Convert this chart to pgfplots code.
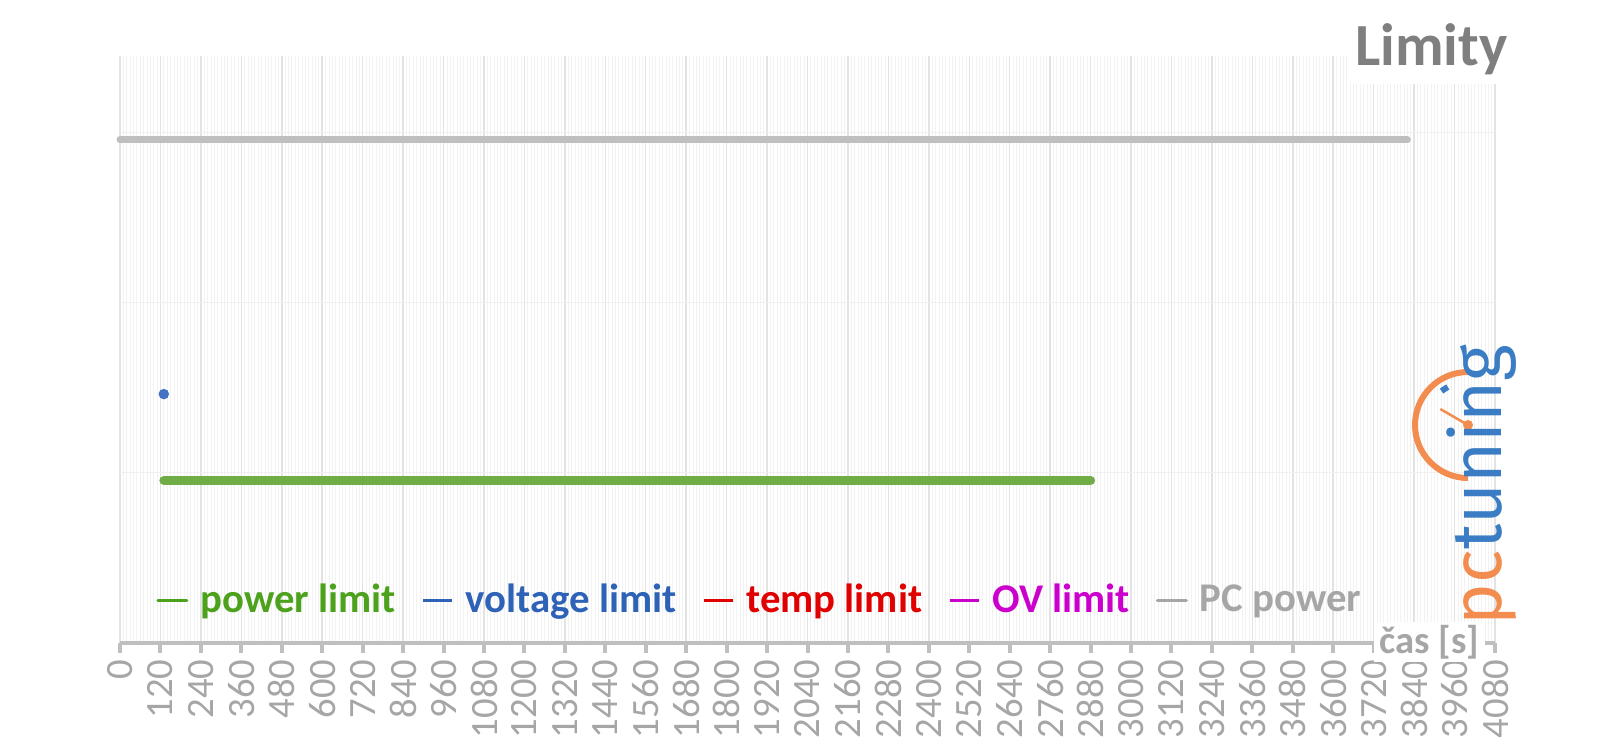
\documentclass[border=0pt]{standalone}
\usepackage{pgfplots}
\pgfplotsset{compat=1.18}
\usepackage{fontspec}
\setmainfont{Carlito}
\newfontfamily\logofont{Fira Sans}
\definecolor{plgreen}{HTML}{70AD47}
\definecolor{plgreentxt}{HTML}{4CA21C}
\definecolor{plblue}{HTML}{4472C4}
\definecolor{plbluetxt}{HTML}{2E62B6}
\definecolor{plred}{HTML}{E00000}
\definecolor{plmag}{HTML}{CC00CC}
\definecolor{plgray}{HTML}{BFBFBF}
\definecolor{plgraytxt}{HTML}{A6A6A6}
\definecolor{titlegray}{HTML}{7F7F7F}
\definecolor{pcorange}{HTML}{F28C4F}
\definecolor{pcblue}{HTML}{3B7DC4}
\begin{document}
\begin{tikzpicture}
\path[use as bounding box] (-12mm,-9.5mm) rectangle (148mm,64.3mm);
\begin{axis}[
  scale only axis,
  width=137.5mm, height=58.7mm,
  xmin=0, xmax=4080, ymin=0, ymax=345,
  axis x line*=bottom, axis y line*=left,
  y axis line style={draw=none},
  x axis line style={draw=plgray, line width=0.45mm, -},
  xtick={0,120,...,4080},
  ytick={100,200,300},
  yticklabels={},
  ytick style={draw=none},
  xtick pos=bottom,
  tick align=outside,
  major tick length=1mm,
  minor tick length=0mm,
  xtick style={draw=plgray, line width=0.4mm},
  minor x tick num=11,
  xmajorgrids, ymajorgrids, xminorgrids,
  major grid style={draw=black!11, line width=0.15mm},
  minor x grid style={draw=black!5, line width=0.08mm},
  y grid style={draw=black!6, line width=0.12mm},
  /pgf/number format/assume math mode=true,
  /pgf/number format/1000 sep={},
  xticklabel style={rotate=90, anchor=east, text=plgraytxt, font=\fontsize{11}{12}\selectfont, inner sep=0.6mm},
  legend columns=-1,
  legend style={at={(axis description cs:0.026,0.072)}, anchor=west, draw=none, fill=none,
    font=\bfseries\fontsize{11.6}{13}\selectfont, inner sep=0pt,
    nodes={inner xsep=1.2mm},
    /tikz/every even column/.append style={column sep=1.4mm}},
  clip=false,
]
\addplot[plgreen, line width=0.9mm, line cap=round,
  legend image code/.code={\draw[plgreentxt, line width=0.3mm] (0mm,0mm) -- (2.9mm,0mm);}]
  coordinates {(130,95.6) (600,95.6) (1200,95.6) (1560,95.6) (2000,95.6) (2500,95.6) (2880,95.6)};
\addlegendentry{\textcolor{plgreentxt}{power limit}}
\addplot[only marks, mark=*, mark size=0.45mm, plblue, mark options={draw=plblue, fill=plblue},
  legend image code/.code={\draw[plbluetxt, line width=0.3mm] (0mm,0mm) -- (2.9mm,0mm);}]
  coordinates {(130,146.3)};
\addlegendentry{\textcolor{plbluetxt}{voltage limit}}
\addlegendimage{legend image code/.code={\draw[plred, line width=0.3mm] (0mm,0mm) -- (2.9mm,0mm);}}
\addlegendentry{\textcolor{plred}{temp limit}}
\addlegendimage{legend image code/.code={\draw[plmag, line width=0.3mm] (0mm,0mm) -- (2.9mm,0mm);}}
\addlegendentry{\textcolor{plmag}{OV limit}}
\addplot[plgray, line width=0.7mm, line cap=round,
  legend image code/.code={\draw[plgraytxt, line width=0.3mm] (0mm,0mm) -- (2.9mm,0mm);}]
  coordinates {(0,295.7) (1000,295.7) (2000,295.7) (3000,295.7) (3820,295.7)};
\addlegendentry{\textcolor{plgraytxt}{PC power}}
\end{axis}
% title
\node[anchor=base east, fill=white, text=titlegray, font=\bfseries\fontsize{17}{20}\selectfont, inner xsep=0.5mm, inner ysep=1mm] at (139.3mm,57.8mm) {Limity};
% axis label
\node[anchor=east, fill=white, text=plgraytxt, font=\bfseries\fontsize{11}{13}\selectfont, inner xsep=0.6mm, inner ysep=0.3mm] at (136.6mm,0.1mm) {čas [s]};
% logo watermark
\draw[pcorange, line width=0.6mm] (134.8mm,27.1mm) arc[start angle=90, end angle=270, radius=5.3mm];
\draw[pcorange, line width=0.25mm] (134.8mm,21.8mm) -- ++(150:3.2mm);
\fill[pcorange] (134.8mm,21.8mm) circle (0.5mm);
\draw[pcblue, line width=0.6mm] (134.8mm,21.8mm) ++(128:4.3mm) arc[start angle=128, end angle=118, radius=4.3mm];
\node[rotate=90, font=\logofont\fontsize{20}{22}\selectfont, inner sep=0pt] at (136.2mm,15.8mm) {\textcolor{pcorange}{pc}\textcolor{pcblue}{tuning}};
\end{tikzpicture}
\end{document}
